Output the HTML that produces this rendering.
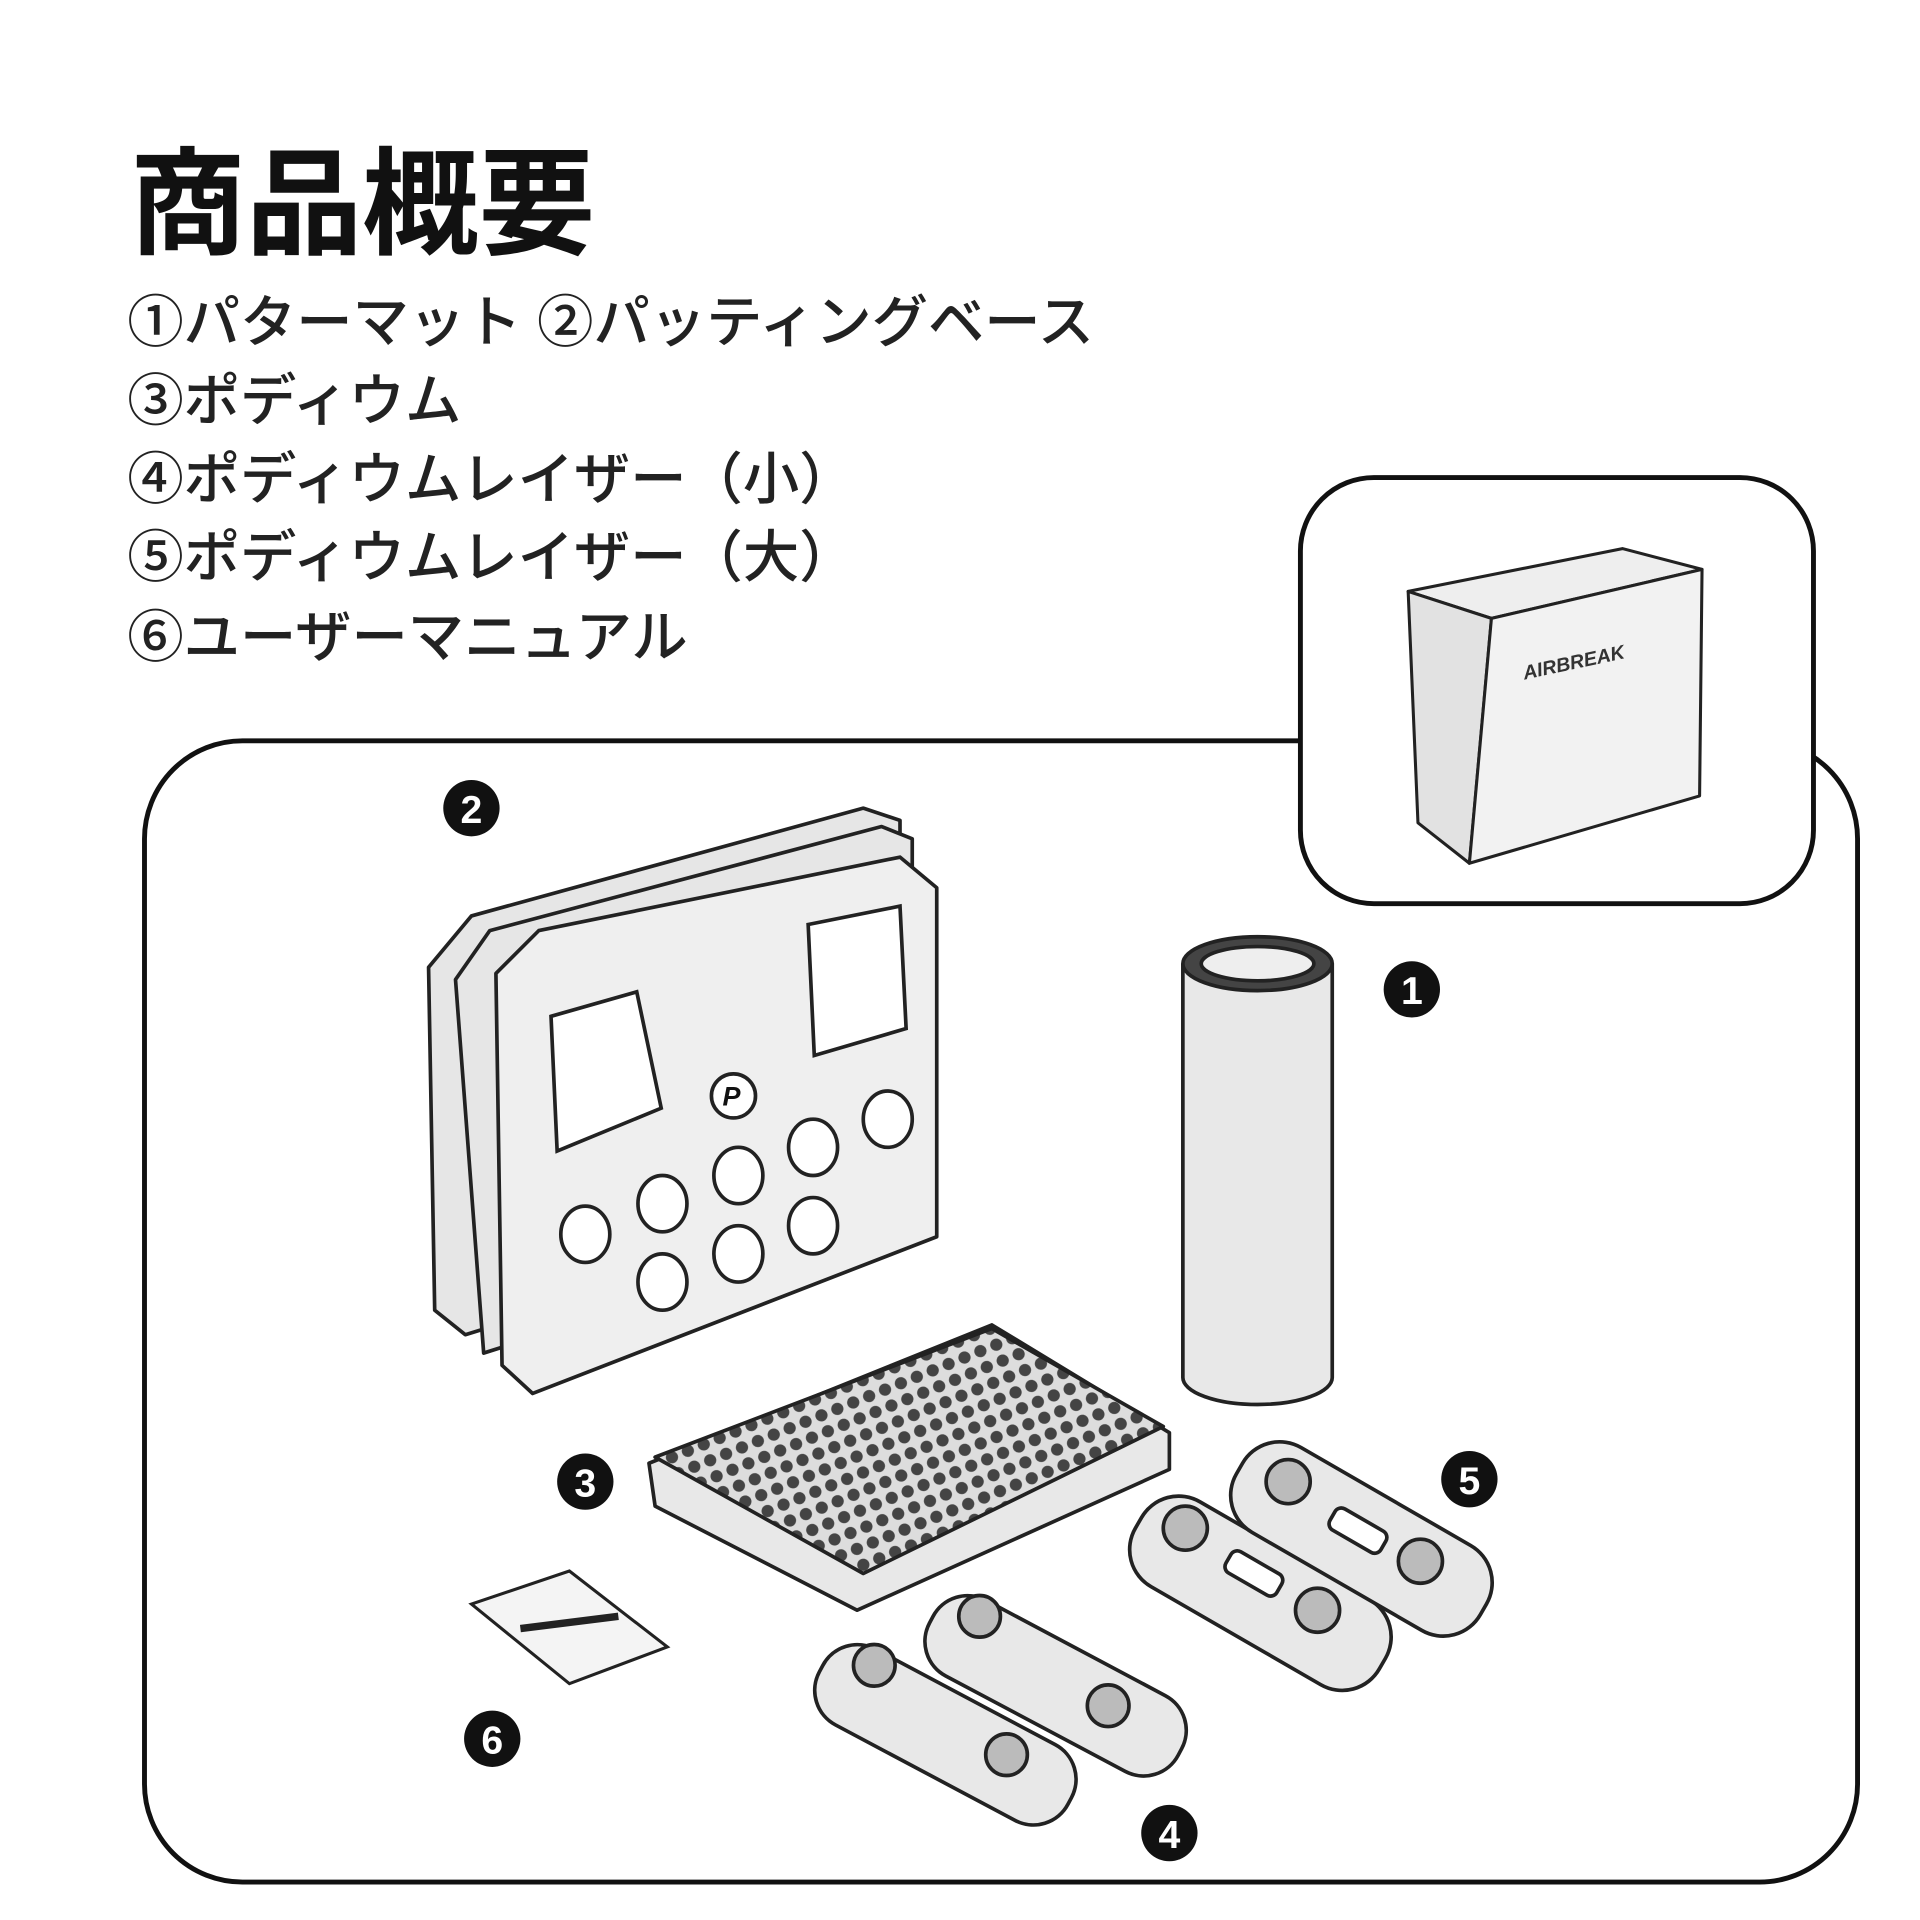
<!DOCTYPE html>
<html><head><meta charset="utf-8">
<style>
html,body{margin:0;padding:0;background:#fff;}
svg{display:block;}
text{font-family:"Liberation Sans","Noto Sans CJK JP",sans-serif;}
</style></head>
<body>
<svg width="1920" height="1920" viewBox="0 0 1568 1568" xmlns="http://www.w3.org/2000/svg">
<defs>
<pattern id="dots" x="0" y="0" width="14" height="14" patternUnits="userSpaceOnUse" patternTransform="rotate(-22)">
<rect width="14" height="14" fill="#ddd"/>
<circle cx="7" cy="7" r="5" fill="#444"/>
</pattern>
</defs>
<text x="106" y="200" font-size="95" font-weight="bold" fill="#111">商品概要</text>
<g font-size="46" fill="#222" font-weight="500">
<text x="104" y="279">①パターマット ②パッティングベース</text>
<text x="104" y="343">③ポディウム</text>
<text x="104" y="407">④ポディウムレイザー（小）</text>
<text x="104" y="471">⑤ポディウムレイザー（大）</text>
<text x="104" y="536">⑥ユーザーマニュアル</text>
</g>
<rect x="118" y="605" width="1399" height="932" rx="80" fill="#fff" stroke="#111" stroke-width="4"/>
<rect x="1062" y="390" width="419" height="348" rx="60" fill="#fff" stroke="#111" stroke-width="4"/>
<g stroke="#222" stroke-width="2.5" fill="#eee" stroke-linejoin="round">
<polygon points="1150,483 1325,448 1390,465 1218,505"/>
<polygon points="1150,483 1218,505 1200,705 1158,672" fill="#e2e2e2"/>
<polygon points="1218,505 1390,465 1388,650 1200,705" fill="#f2f2f2"/>
</g>
<text x="1245" y="555" font-size="16" font-style="italic" font-weight="bold" fill="#333" transform="rotate(-12 1245 555)">AIRBREAK</text>
<g stroke="#222" stroke-width="3" fill="#e6e6e6" stroke-linejoin="round">
<polygon points="350,790 385,748 705,660 735,670 735,980 380,1090 355,1070"/>
<polygon points="372,800 400,760 720,675 745,685 745,995 395,1105"/>
<polygon points="405,795 440,760 735,700 765,725 765,1010 435,1138 410,1115" fill="#efefef"/>
</g>
<g stroke="#222" stroke-width="3" fill="#fff">
<polygon points="450,830 520,810 540,905 455,940"/>
<polygon points="660,755 735,740 740,840 665,862"/>
<ellipse cx="478" cy="1008" rx="20" ry="23"/><ellipse cx="541" cy="983" rx="20" ry="23"/>
<ellipse cx="603" cy="960" rx="20" ry="23"/><ellipse cx="664" cy="937" rx="20" ry="23"/>
<ellipse cx="725" cy="914" rx="20" ry="23"/><ellipse cx="541" cy="1047" rx="20" ry="23"/>
<ellipse cx="603" cy="1024" rx="20" ry="23"/><ellipse cx="664" cy="1001" rx="20" ry="23"/>
<circle cx="599" cy="895" r="18"/>
</g>
<text x="590" y="903" font-size="22" font-weight="bold" font-style="italic" fill="#111">P</text>
<g stroke="#222" stroke-width="3" stroke-linejoin="round">
<polygon points="530,1195 810,1082 955,1170 955,1200 700,1315 535,1230" fill="#e8e8e8"/>
<polygon points="535,1190 810,1085 950,1165 705,1285" fill="url(#dots)"/>
</g>
<g stroke="#222" stroke-width="3">
<path d="M966,787 L966,1125 A61,22 0 0 0 1088,1125 L1088,787" fill="#e8e8e8"/>
<ellipse cx="1027" cy="787" rx="61" ry="22" fill="#444"/>
<ellipse cx="1027" cy="787" rx="46" ry="14" fill="#eee"/>
</g>
<g stroke="#222" stroke-width="3" fill="#e8e8e8">
<rect x="920" y="1260" width="230" height="80" rx="35" transform="rotate(30 1030 1290)"/>
<rect x="1000" y="1215" width="230" height="80" rx="35" transform="rotate(30 1110 1250)"/>
<rect x="660" y="1380" width="230" height="70" rx="32" transform="rotate(28 770 1410)"/>
<rect x="750" y="1340" width="230" height="70" rx="32" transform="rotate(28 860 1370)"/>
</g>
<g stroke="#222" stroke-width="3" fill="#bbb">
<circle cx="968" cy="1248" r="18"/><circle cx="1076" cy="1315" r="18"/>
<circle cx="1052" cy="1210" r="18"/><circle cx="1160" cy="1275" r="18"/>
<circle cx="714" cy="1360" r="17"/><circle cx="822" cy="1433" r="17"/>
<circle cx="800" cy="1320" r="17"/><circle cx="905" cy="1393" r="17"/>
</g>
<g fill="#fff" stroke="#222" stroke-width="3">
<rect x="1000" y="1275" width="48" height="20" rx="6" transform="rotate(30 1024 1285)"/>
<rect x="1085" y="1240" width="48" height="20" rx="6" transform="rotate(30 1109 1250)"/>
</g>
<polygon points="385,1310 465,1283 545,1345 465,1375" fill="#f4f4f4" stroke="#222" stroke-width="2.5"/>
<line x1="425" y1="1330" x2="505" y2="1320" stroke="#222" stroke-width="6"/>
<g fill="#111">
<circle cx="385" cy="660" r="23"/><circle cx="1153" cy="808" r="23"/>
<circle cx="478" cy="1210" r="23"/><circle cx="1200" cy="1208" r="23"/>
<circle cx="955" cy="1497" r="23"/><circle cx="402" cy="1420" r="23"/>
</g>
<g fill="#fff" font-size="32" font-weight="bold" text-anchor="middle">
<text x="385" y="672">2</text><text x="1153" y="820">1</text>
<text x="478" y="1222">3</text><text x="1200" y="1220">5</text>
<text x="955" y="1509">4</text><text x="402" y="1432">6</text>
</g>
</svg>
</body></html>
